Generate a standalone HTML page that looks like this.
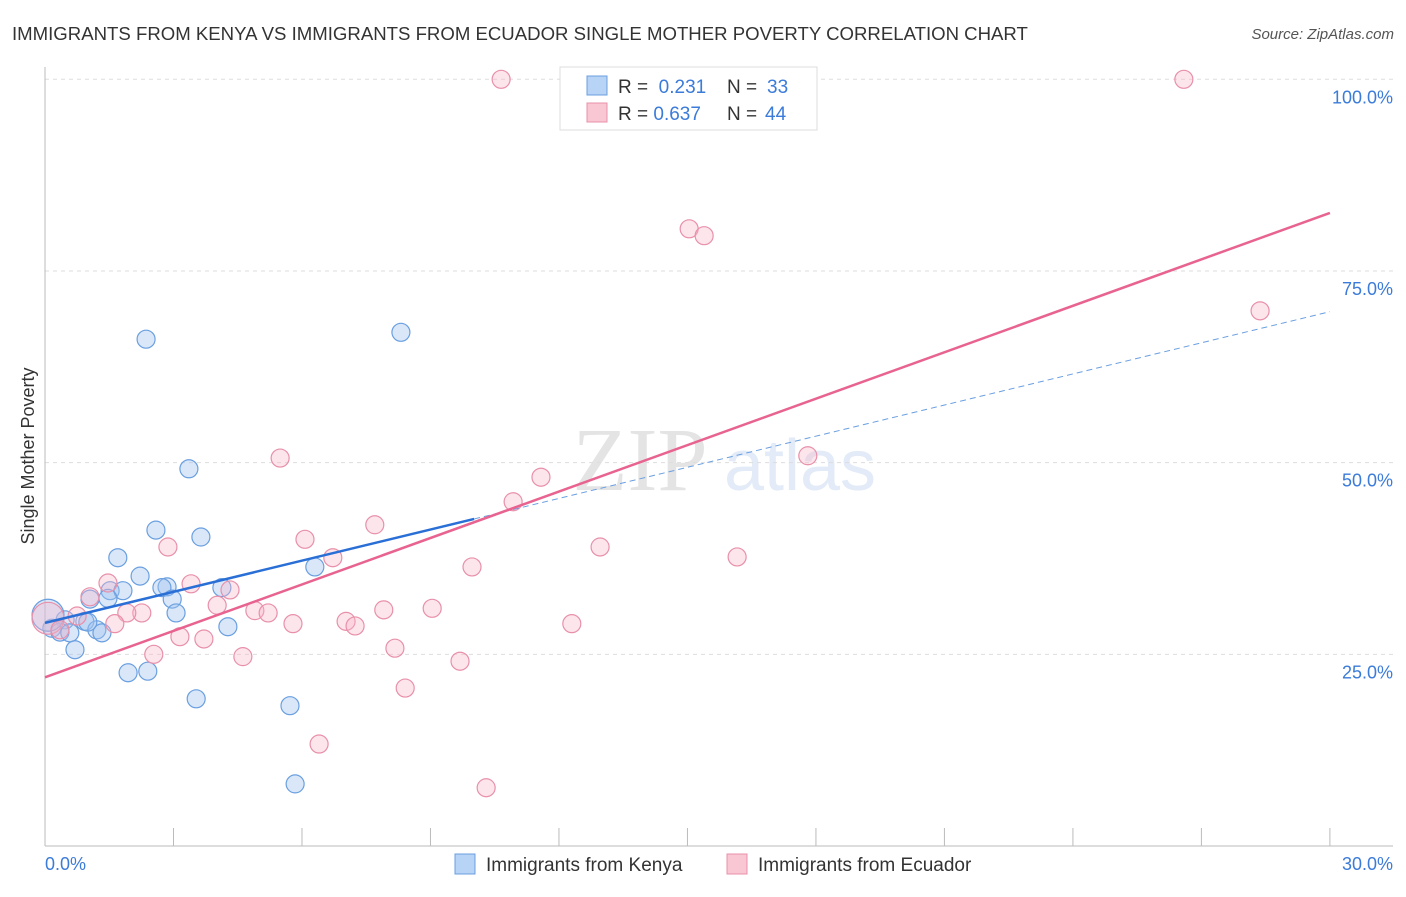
<!DOCTYPE html>
<html><head><meta charset="utf-8"><style>
body{margin:0;background:#fff;font-family:"Liberation Sans",sans-serif;}
</style></head><body>
<svg width="1406" height="892" xmlns="http://www.w3.org/2000/svg">
<text x="12" y="40" font-size="18.6" fill="#333">IMMIGRANTS FROM KENYA VS IMMIGRANTS FROM ECUADOR SINGLE MOTHER POVERTY CORRELATION CHART</text>
<text x="1394" y="39" font-size="15" fill="#555" font-style="italic" text-anchor="end">Source: ZipAtlas.com</text>
<text x="640" y="490" font-size="90" fill="#e4e4e4" font-family="Liberation Serif,serif" text-anchor="middle">ZIP</text>
<text x="800" y="490" font-size="72" fill="#e2ebf7" text-anchor="middle">atlas</text>
<g id="grid"></g><g id="axes"></g><g id="pts"></g><g id="lines"></g>
<text transform="translate(34,456) rotate(-90)" font-size="18" fill="#333" text-anchor="middle">Single Mother Poverty</text>
<text x="45" y="870" font-size="18" fill="#3b7bd9">0.0%</text>
<text x="1393" y="870" font-size="18" fill="#3b7bd9" text-anchor="end">30.0%</text>
<g>
<rect x="560" y="67" width="257" height="63" fill="#fff" stroke="#ddd"/>
<rect x="587" y="76" width="20" height="19" fill="#b7d3f5" stroke="#6a9fe0"/>
<rect x="587" y="103" width="20" height="19" fill="#f9c6d4" stroke="#e890aa"/>
<text x="618" y="93" font-size="19" fill="#333">R = <tspan fill="#3b7bd9">&#160;0.231</tspan><tspan x="727">N = </tspan><tspan fill="#3b7bd9" x="767">33</tspan></text>
<text x="618" y="120" font-size="19" fill="#333">R = <tspan fill="#3b7bd9">0.637</tspan><tspan x="727">N = </tspan><tspan fill="#3b7bd9" x="765">44</tspan></text>
</g>
<g>
<rect x="455" y="854" width="20" height="20" fill="#b7d3f5" stroke="#6a9fe0"/>
<text x="486" y="871" font-size="19" fill="#333">Immigrants from Kenya</text>
<rect x="727" y="854" width="20" height="20" fill="#f9c6d4" stroke="#e890aa"/>
<text x="758" y="871" font-size="19" fill="#333">Immigrants from Ecuador</text>
</g>
</svg>
<script>
const yTicks=[25,50,75,100];
const yTickLabels=["25.0%","50.0%","75.0%","100.0%"];
const kenyaX=[2.36,8.31,3.36,2.59,3.64,1.70,2.22,2.85,2.73,1.52,1.82,1.05,2.97,1.47,3.06,4.13,4.27,6.30,0.93,0.47,0.16,0.35,0.58,1.21,1.33,0.70,1.94,2.40,3.53,5.72,5.84,0.07,1.0];
const kenyaY=[66.1,67.0,49.2,41.2,40.3,37.6,35.2,33.8,33.7,33.3,33.3,32.2,32.2,32.3,30.4,33.7,28.6,36.4,29.3,29.5,28.4,27.9,27.8,28.2,27.8,25.6,22.6,22.8,19.2,18.3,8.1,30.1,29.2];
const ecuX=[10.65,26.59,15.04,15.39,28.37,17.81,5.49,11.58,10.93,7.70,2.87,6.07,12.96,16.16,6.72,9.97,1.47,3.41,4.32,1.05,0.75,4.02,4.90,5.21,2.26,1.91,7.91,9.04,7.03,7.24,5.79,12.30,1.63,3.15,3.71,2.54,4.62,8.17,9.69,8.41,6.40,10.30,0.07,0.35];
const ecuY=[100,100,80.5,79.6,69.8,50.9,50.6,48.1,44.9,41.9,39.0,40.0,39.0,37.7,37.6,36.4,34.3,34.2,33.4,32.5,30.0,31.4,30.7,30.4,30.4,30.4,30.8,31.0,29.3,28.7,29.0,29.0,29.0,27.3,27.0,25.0,24.7,25.8,24.1,20.6,13.3,7.6,29.7,28.2];
const kenyaFit=[29.1,1.353,10.02];
const ecuFit=[22.0,2.019];
const NS='http://www.w3.org/2000/svg';
const X=v=>45+v*42.83, Y=v=>846-v*7.667;
function mk(t,a,p){const e=document.createElementNS(NS,t);for(const k in a)e.setAttribute(k,a[k]);document.getElementById(p).appendChild(e);return e;}
yTicks.forEach((t,i)=>{
 const g=mk('line',{x1:45,x2:1393,y1:Y(t),y2:Y(t),stroke:'#ddd','stroke-dasharray':'4,4'},'grid');
 
 
 const l=mk('text',{x:1393,y:Y(t)+24,'font-size':18,fill:'#3b7bd9','text-anchor':'end','font-family':'Liberation Sans'},'grid');
 l.textContent=yTickLabels[i];
 
 
});
const a1=mk('line',{x1:45,x2:45,y1:67,y2:846,stroke:'#bbb'},'axes');


const a2=mk('line',{x1:45,x2:1393,y1:846,y2:846,stroke:'#bbb'},'axes');


for(let i=0;i<=10;i++){const t=mk('line',{x1:X(i*3),x2:X(i*3),y1:828,y2:846,stroke:'#bbb'},'axes');
 
 }
function pts(xs,ys,fill,stroke,name){xs.forEach((x,i)=>{
 const big=x<0.1;
 const c=mk('circle',{cx:X(x),cy:Y(ys[i]),r:big?16:9,fill:fill,stroke:stroke,'stroke-width':1.2},'pts');
 
 });}
pts(kenyaX,kenyaY,'rgba(160,195,240,0.4)','#6a9fe0','point-kenya');
pts(ecuX,ecuY,'rgba(248,180,200,0.35)','#e890aa','point-ecuador');
const kb=kenyaFit[0],km=kenyaFit[1],ke=kenyaFit[2];
const l1=mk('line',{x1:X(0),y1:Y(kb),x2:X(ke),y2:Y(kb+km*ke),stroke:'#2a6fd6','stroke-width':2.5},'lines');


const l2=mk('line',{x1:X(ke),y1:Y(kb+km*ke),x2:X(30),y2:Y(kb+km*30),stroke:'#6a9fe0','stroke-width':1,'stroke-dasharray':'6,4'},'lines');


const l3=mk('line',{x1:X(0),y1:Y(ecuFit[0]),x2:X(30),y2:Y(ecuFit[0]+ecuFit[1]*30),stroke:'#e8638f','stroke-width':2.5},'lines');


</script>
</body></html>
